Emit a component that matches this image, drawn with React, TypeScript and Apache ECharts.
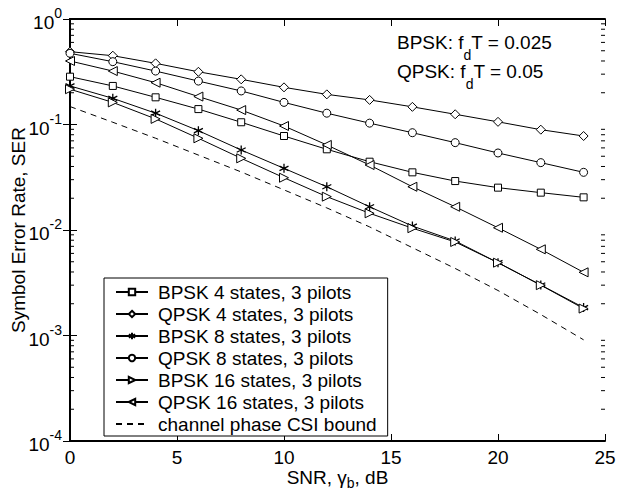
import React, { useEffect, useRef } from "react";
import * as echarts from "echarts";

const snr = [0, 2, 4, 6, 8, 10, 12, 14, 16, 18, 20, 22, 24];
const bpsk4 = [0.284, 0.232, 0.181, 0.14, 0.105, 0.0778, 0.0582, 0.0444, 0.0352, 0.0291, 0.0252, 0.0226, 0.0204];
const qpsk4 = [0.49, 0.449, 0.38, 0.316, 0.268, 0.225, 0.193, 0.171, 0.147, 0.125, 0.106, 0.0893, 0.0778];
const bpsk8 = [0.232, 0.177, 0.128, 0.0874, 0.0573, 0.0384, 0.0257, 0.0166, 0.0109, 0.00787, 0.0049, 0.00301, 0.00184];
const qpsk8 = [0.473, 0.394, 0.321, 0.258, 0.208, 0.162, 0.128, 0.103, 0.0836, 0.0673, 0.0537, 0.0435, 0.0352];
const bpsk16 = [0.216, 0.162, 0.113, 0.074, 0.0478, 0.0313, 0.0207, 0.0144, 0.0104, 0.0077, 0.0049, 0.003, 0.0018];
const qpsk16 = [0.4, 0.321, 0.249, 0.184, 0.137, 0.0968, 0.064, 0.0413, 0.0257, 0.0166, 0.0105, 0.00656, 0.00397];
const bound = [0.148, 0.105, 0.0741, 0.0513, 0.0355, 0.024, 0.0162, 0.0107, 0.0068, 0.00432, 0.00267, 0.00158, 0.00091];

const seriesNames = [
  "BPSK 4 states, 3 pilots",
  "QPSK 4 states, 3 pilots",
  "BPSK 8 states, 3 pilots",
  "QPSK 8 states, 3 pilots",
  "BPSK 16 states, 3 pilots",
  "QPSK 16 states, 3 pilots",
  "channel phase CSI bound",
];

const decades = [1e-4, 1e-3, 1e-2, 1e-1];
const minorMultipliers = [2, 3, 4, 5, 6, 7, 8, 9];

const FONT = "Liberation Sans, Arial, Helvetica, sans-serif";
const STAR = "path://M5,0L5,10M0.67,2.5L9.33,7.5M0.67,7.5L9.33,2.5";

export default function App() {
  const ref = useRef<HTMLDivElement>(null);

  useEffect(() => {
    if (!ref.current) return;
    const chart = echarts.init(ref.current, undefined, { renderer: "svg" });

    const pair = (ys: number[]) => snr.map((x, i) => [x, ys[i]]);
    const minorTicks: number[][] = [];
    decades.forEach((d) => minorMultipliers.forEach((m) => minorTicks.push([0, d * m])));

    const mk = (name: string, ys: number[], symbol: string, rotate = 0, size = 8, bw = 1) => ({
      name,
      type: "line",
      data: pair(ys),
      symbol,
      symbolSize: size,
      symbolRotate: rotate,
      clip: false,
      lineStyle: { color: "#000", width: 1 },
      itemStyle: { color: "#fff", borderColor: "#000", borderWidth: bw },
      emphasis: { disabled: true },
    });

    const axisLine = { show: true, lineStyle: { color: "#000", width: 2 } };
    const tickInside = { show: true, inside: true, length: 7, lineStyle: { color: "#000", width: 1 } };

    const yFormatter = (v: number) => {
      const e = Math.round(Math.log10(v));
      return "{b|10}{s|" + e + "}";
    };

    const legendData: any[] = seriesNames.map((n, i) =>
      i === 6 ? { name: n, itemStyle: { opacity: 0 } } : { name: n }
    );

    const option: any = {
      animation: false,
      backgroundColor: "#fff",
      grid: { left: 70, right: 12, top: 19, bottom: 51, show: false, outerBoundsMode: "none", containLabel: false },
      xAxis: [
        {
          type: "value",
          min: 0,
          max: 25,
          interval: 5,
          position: "bottom",
          axisLine,
          axisTick: tickInside,
          splitLine: { show: false },
          axisLabel: { color: "#000", fontSize: 19, fontFamily: FONT, margin: 7 },
          name: "{a|SNR, γ}{s|b}{a|, dB}",
          nameLocation: "middle",
          nameGap: 27,
          nameMoveOverlap: false,
          nameTextStyle: {
            rich: {
              a: { fontSize: 19, fontFamily: FONT, color: "#000", lineHeight: 22, verticalAlign: "top" },
              s: { fontSize: 14, fontFamily: FONT, color: "#000", lineHeight: 10, verticalAlign: "bottom" },
            },
          },
        },
        {
          type: "value",
          min: 0,
          max: 25,
          interval: 5,
          position: "top",
          axisLine,
          axisTick: tickInside,
          splitLine: { show: false },
          axisLabel: { show: false },
        },
      ],
      yAxis: [
        {
          type: "log",
          logBase: 10,
          min: 1e-4,
          max: 1,
          position: "left",
          axisLine,
          axisTick: tickInside,
          splitLine: { show: false },
          minorTick: { show: false },
          axisLabel: {
            formatter: yFormatter,
            margin: 8,
            rich: {
              b: { fontSize: 19, fontFamily: FONT, color: "#000", lineHeight: 26, verticalAlign: "bottom" },
              s: { fontSize: 14, fontFamily: FONT, color: "#000", lineHeight: 12, verticalAlign: "top" },
            },
          },
          name: "Symbol Error Rate, SER",
          nameLocation: "middle",
          nameGap: 42,
          nameMoveOverlap: false,
          nameRotate: 90,
          nameTextStyle: { fontSize: 19, fontFamily: FONT, color: "#000" },
        },
        {
          type: "log",
          logBase: 10,
          min: 1e-4,
          max: 1,
          position: "right",
          axisLine,
          axisTick: tickInside,
          splitLine: { show: false },
          axisLabel: { show: false },
        },
      ],
      legend: {
        data: legendData,
        orient: "vertical",
        left: 104,
        top: 278,
        itemWidth: 32,
        itemHeight: 8,
        itemGap: 2,
        padding: [4, 11, 2, 11],
        borderColor: "#000",
        borderWidth: 1,
        borderRadius: 0,
        backgroundColor: "#fff",
        selectedMode: false,
        textStyle: { fontSize: 19, fontFamily: FONT, color: "#000", lineHeight: 20, padding: [0, 0, 0, 5] },
      },
      graphic: [
        {
          type: "text",
          left: 397,
          top: 33,
          style: {
            text: "{a|BPSK: f}{s|d}{a|T = 0.025}\n{a|QPSK: f}{s|d}{a|T = 0.05}",
            rich: {
              a: { fontSize: 19, fontFamily: FONT, fill: "#000", lineHeight: 29, verticalAlign: "top" },
              s: { fontSize: 14, fontFamily: FONT, fill: "#000", lineHeight: 12, verticalAlign: "bottom" },
            },
          },
        },
      ],
      series: [
        mk(seriesNames[0], bpsk4, "rect", 0, 7),
        mk(seriesNames[1], qpsk4, "diamond", 0, 9),
        mk(seriesNames[2], bpsk8, STAR, 0, 9, 1.3),
        mk(seriesNames[3], qpsk8, "circle", 0, 8),
        mk(seriesNames[4], bpsk16, "triangle", -90, 9),
        mk(seriesNames[5], qpsk16, "triangle", 90, 9),
        {
          name: seriesNames[6],
          type: "line",
          data: pair(bound),
          symbol: "none",
          clip: false,
          lineStyle: { color: "#000", width: 1, type: [6, 5] },
          itemStyle: { color: "#000" },
          emphasis: { disabled: true },
        },
        {
          type: "custom",
          name: "minor ticks",
          silent: true,
          data: minorTicks,
          renderItem: (params: any, api: any) => {
            const v = api.value(1);
            const pl = api.coord([0, v]);
            const pr = api.coord([25, v]);
            return {
              type: "group",
              children: [
                { type: "line", shape: { x1: pl[0], y1: pl[1], x2: pl[0] + 4, y2: pl[1] }, style: { stroke: "#000", lineWidth: 1 } },
                { type: "line", shape: { x1: pr[0] - 4, y1: pr[1], x2: pr[0], y2: pr[1] }, style: { stroke: "#000", lineWidth: 1 } },
              ],
            };
          },
        },
      ],
    };

    chart.setOption(option);
    return () => chart.dispose();
  }, []);

  return <div ref={ref} style={{ position: "fixed", left: 0, top: 0, width: 617, height: 492 }} />;
}
